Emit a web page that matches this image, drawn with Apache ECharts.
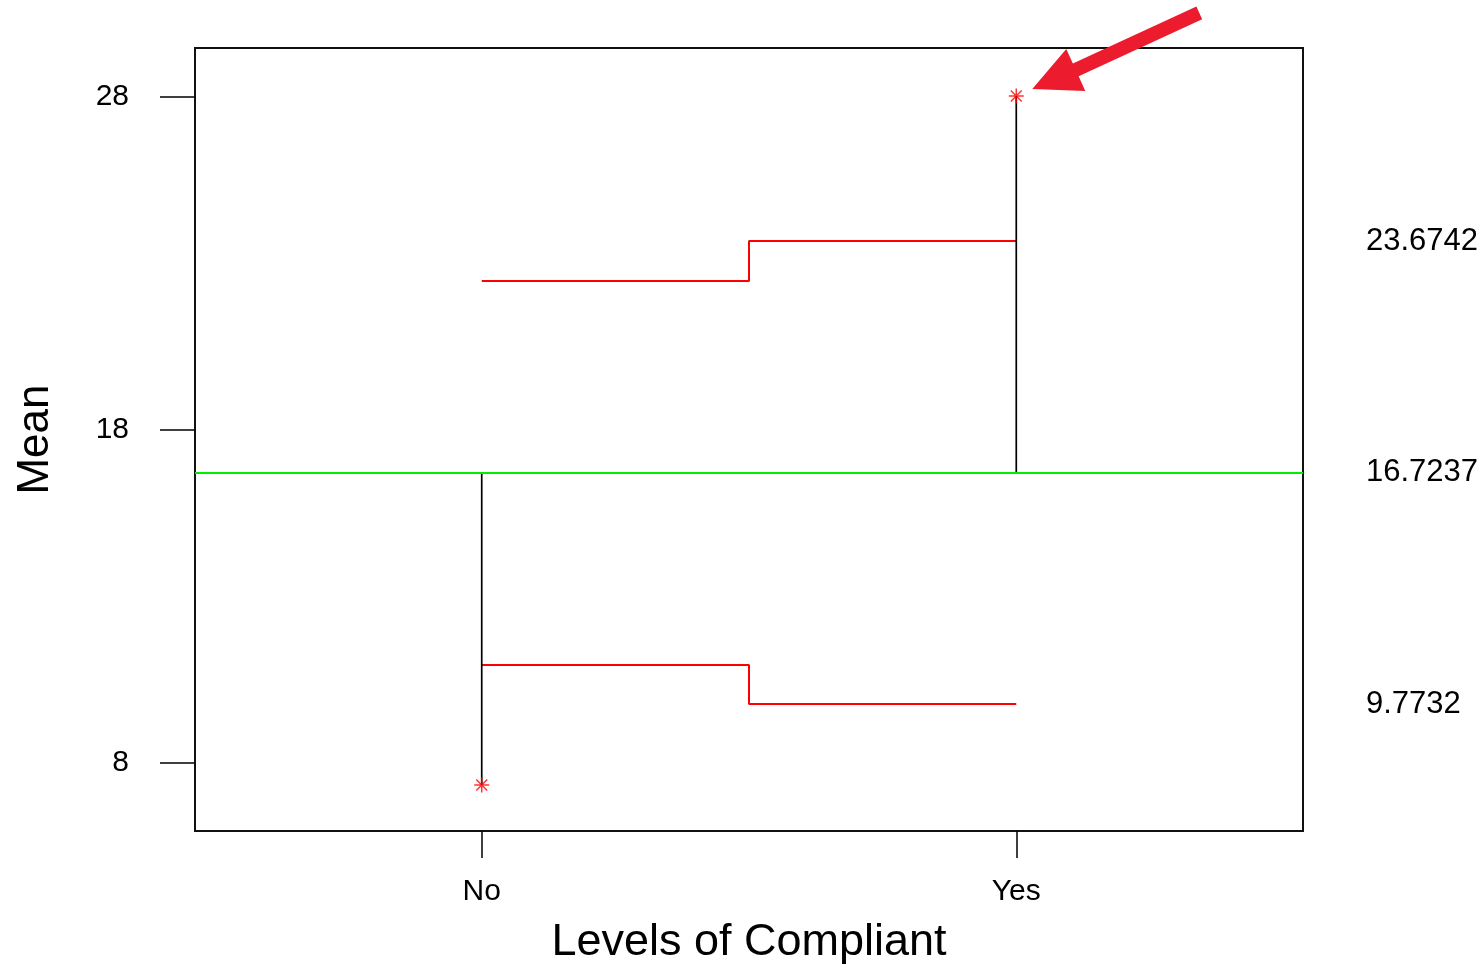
<!DOCTYPE html>
<html>
<head>
<meta charset="utf-8">
<script src="https://cdn.jsdelivr.net/npm/echarts@6/dist/echarts.min.js"></script>
<style>html,body{margin:0;padding:0;background:#fff}#c{width:1482px;height:965px}</style>
</head>
<body>
<div id="c"></div>
<script>
// ---- data ----
const categories = ['No', 'Yes'];
const catPositions = [1, 2];
const groupMeans = [7.34, 28.03];
const centerLine = 16.7237;
const upperLimits = [22.47, 23.6742];
const lowerLimits = [10.94, 9.7732];
const yTicks = [8, 18, 28];
const rightLabels = ['23.6742', '16.7237', '9.7732'];
const rightLabelValues = [23.6742, 16.7237, 9.7732];

const FONT = '"Liberation Sans", Arial, sans-serif';
const chart = echarts.init(document.getElementById('c'), null, {renderer: 'canvas'});

const asterisk = 'path://M0 9L20 9L20 11L0 11Z M9 0L11 0L11 20L9 20Z M2 3.4L3.4 2L18 16.6L16.6 18Z M16.6 2L18 3.4L3.4 18L2 16.6Z';

const series = [];
// vertical black lines from center line to each mean
catPositions.forEach((x, i) => {
  series.push({
    type: 'line', data: [[x, centerLine], [x, groupMeans[i]]],
    symbol: 'none', lineStyle: {color: '#000', width: 1.7}, silent: true, z: 3
  });
});
// step decision limits
series.push({
  type: 'line', step: 'middle',
  data: catPositions.map((x, i) => [x, upperLimits[i]]),
  symbol: 'none', lineStyle: {color: '#ff0000', width: 2}, z: 2
});
series.push({
  type: 'line', step: 'middle',
  data: catPositions.map((x, i) => [x, lowerLimits[i]]),
  symbol: 'none', lineStyle: {color: '#ff0000', width: 2}, z: 2
});
// center line + right side labels
series.push({
  type: 'line', data: [], symbol: 'none',
  markLine: {
    silent: true, symbol: 'none', animation: false,
    data: rightLabelValues.map((v, i) => ({
      yAxis: v,
      lineStyle: v === centerLine ? {color: '#00ee00', width: 2, type: 'solid'} : {color: 'rgba(0,0,0,0)', width: 0},
      label: {
        show: true, position: 'end', distance: 63, formatter: rightLabels[i],
        color: '#000', fontSize: 31, fontFamily: FONT
      }
    }))
  }
});
// means
series.push({
  type: 'scatter', data: catPositions.map((x, i) => [x, groupMeans[i]]),
  symbol: asterisk, symbolSize: 15, itemStyle: {color: '#ff0000'}, z: 5
});

chart.setOption({
  animation: false,
  backgroundColor: '#fff',
  grid: {left: 195, right: 179, top: 48, bottom: 134, outerBoundsMode: 'none', containLabel: false,
         show: true, borderColor: '#111', borderWidth: 2, backgroundColor: 'transparent'},
  xAxis: {
    type: 'value', min: 0.4636, max: 2.5364,
    axisLine: {show: false},
    splitLine: {show: false},
    axisTick: {show: true, length: 27, customValues: catPositions, lineStyle: {color: '#000', width: 1.5}},
    axisLabel: {
      customValues: catPositions, margin: 46, fontSize: 30, color: '#000', fontFamily: FONT,
      formatter: v => categories[catPositions.indexOf(Math.round(v))] || ''
    },
    name: 'Levels of Compliant', nameLocation: 'middle', nameGap: 89,
    nameTextStyle: {fontSize: 45, color: '#000', fontFamily: FONT}
  },
  yAxis: {
    type: 'value', min: 5.958, max: 29.47,
    axisLine: {show: false},
    splitLine: {show: false},
    axisTick: {show: true, length: 35, customValues: yTicks, lineStyle: {color: '#000', width: 1.5}},
    axisLabel: {customValues: yTicks, margin: 66, fontSize: 30, color: '#000', fontFamily: FONT},
    name: 'Mean', nameLocation: 'middle', nameGap: 137,
    nameTextStyle: {fontSize: 44, color: '#000', fontFamily: FONT}
  },
  series: series
});

// annotation arrow pointing at the "Yes" mean
const p = chart.convertToPixel({gridIndex: 0}, [catPositions[1], groupMeans[1]]);
const rel = [[16, -7], [69, -5], [62.4, -19.6], [185.9, -76.6], [180.1, -89.4], [56.6, -32.4], [50, -47]];
chart.setOption({
  graphic: [{
    type: 'polygon', z: 100,
    shape: {points: rel.map(d => [p[0] + d[0], p[1] + d[1]])},
    style: {fill: '#ec1c2e'}
  }]
});
</script>
</body>
</html>
